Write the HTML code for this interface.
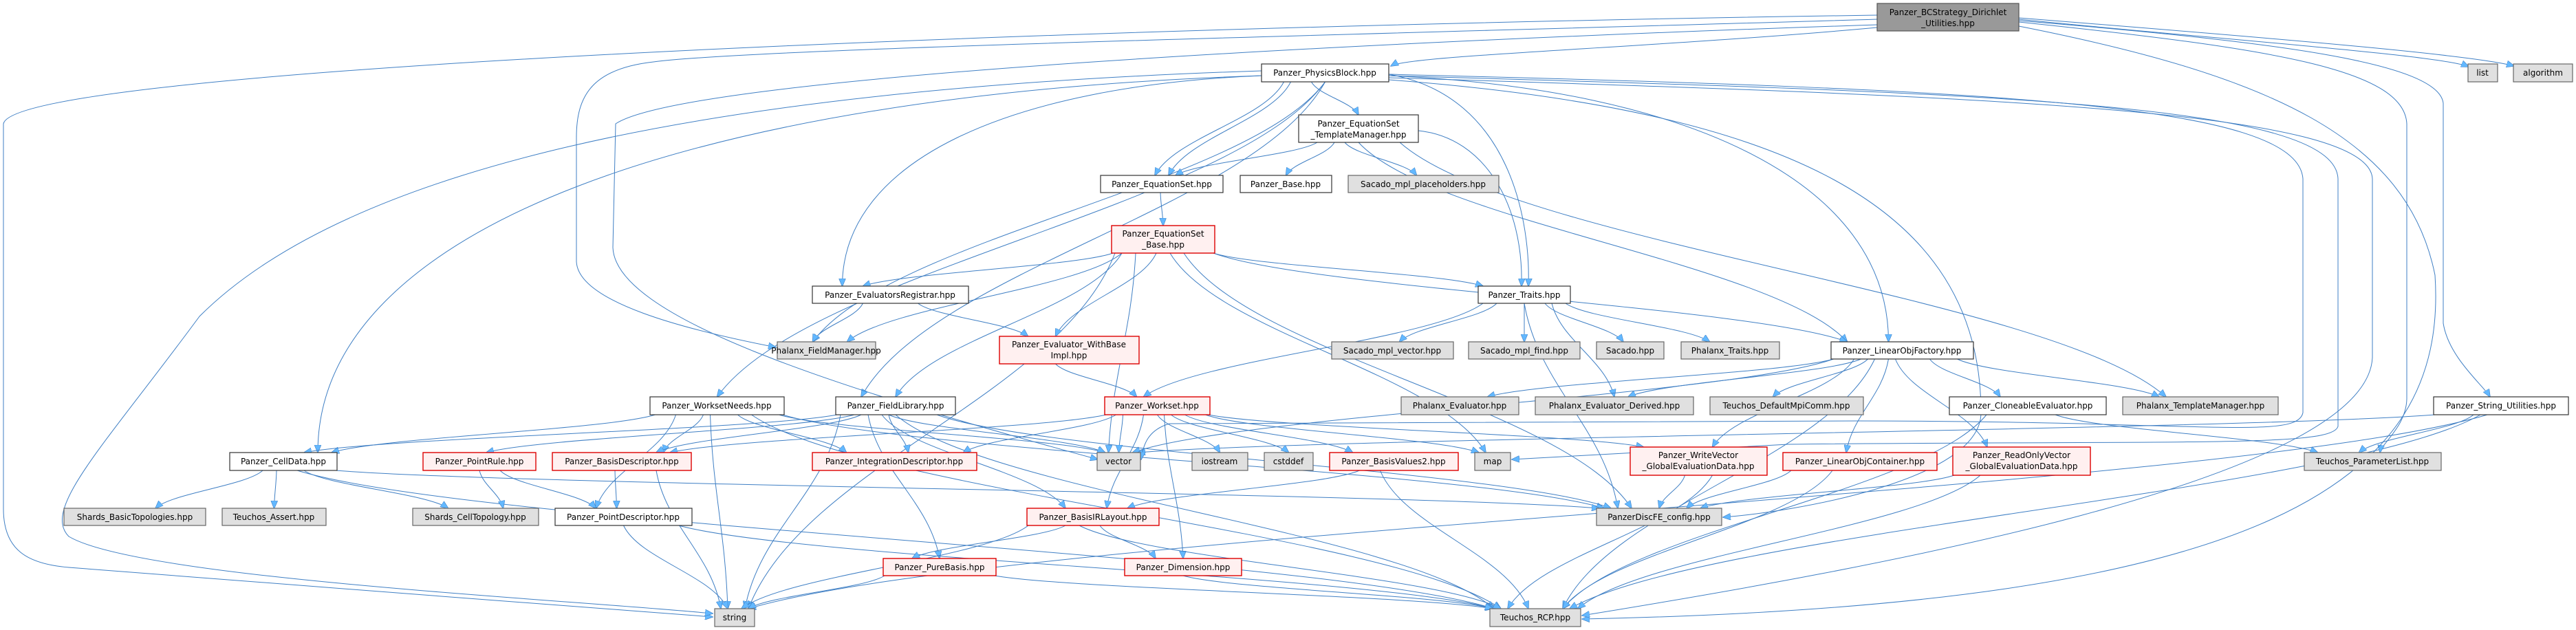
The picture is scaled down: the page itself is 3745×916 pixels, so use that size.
<!DOCTYPE html>
<html><head><meta charset="utf-8"><style>
html,body{margin:0;padding:0;background:#fff;width:3745px;height:916px;overflow:hidden}
svg{display:block}
text{font-family:"DejaVu Sans","Liberation Sans",sans-serif;font-size:12px;fill:#000;text-anchor:middle}
.w{fill:#fff;stroke:#333;stroke-width:1.2}
.g{fill:#e0e0e0;stroke:#666;stroke-width:1.2}
.r{fill:#fff0f0;stroke:#d00;stroke-width:1.4}
.b{fill:#999;stroke:#555;stroke-width:1.2}
.e{fill:none;stroke:#3f7fc4;stroke-width:1}
</style></head><body>
<svg id="s" width="3745" height="916" viewBox="0 0 3745 916" xmlns="http://www.w3.org/2000/svg">
<defs><marker id="a" markerWidth="12" markerHeight="10" refX="11" refY="5" orient="auto" markerUnits="userSpaceOnUse"><path d="M0,0 L12,5 L0,10 Z" fill="#63b8ff" stroke="#3f7fc4" stroke-width="0.6"/></marker></defs>
<g id="edges"></g>
<g id="nodes">
<rect class="b" x="2729" y="5" width="206" height="40"/><text x="2832" y="22">Panzer_BCStrategy_Dirichlet</text><text x="2832" y="38">_Utilities.hpp</text>
<rect class="g" x="3588" y="93" width="43" height="26"/><text x="3609" y="110">list</text>
<rect class="g" x="3654" y="93" width="86" height="26"/><text x="3697" y="110">algorithm</text>
<rect class="w" x="1834" y="93" width="185" height="26"/><text x="1926" y="110">Panzer_PhysicsBlock.hpp</text>
<rect class="w" x="1888" y="167" width="174" height="40"/><text x="1975" y="184">Panzer_EquationSet</text><text x="1975" y="200">_TemplateManager.hpp</text>
<rect class="w" x="1600" y="255" width="178" height="25"/><text x="1689" y="272">Panzer_EquationSet.hpp</text>
<rect class="w" x="1803" y="255" width="133" height="25"/><text x="1869" y="272">Panzer_Base.hpp</text>
<rect class="g" x="1960" y="255" width="219" height="25"/><text x="2069" y="272">Sacado_mpl_placeholders.hpp</text>
<rect class="r" x="1616" y="328" width="150" height="40"/><text x="1691" y="344">Panzer_EquationSet</text><text x="1691" y="360">_Base.hpp</text>
<rect class="w" x="1181" y="416" width="227" height="25"/><text x="1294" y="433">Panzer_EvaluatorsRegistrar.hpp</text>
<rect class="w" x="2149" y="416" width="134" height="25"/><text x="2216" y="433">Panzer_Traits.hpp</text>
<rect class="g" x="1130" y="497" width="143" height="25"/><text x="1201" y="514">Phalanx_FieldManager.hpp</text>
<rect class="r" x="1453" y="489" width="203" height="40"/><text x="1554" y="505">Panzer_Evaluator_WithBase</text><text x="1554" y="521">Impl.hpp</text>
<rect class="g" x="1936" y="497" width="177" height="25"/><text x="2024" y="514">Sacado_mpl_vector.hpp</text>
<rect class="g" x="2135" y="497" width="162" height="25"/><text x="2216" y="514">Sacado_mpl_find.hpp</text>
<rect class="g" x="2321" y="497" width="98" height="25"/><text x="2370" y="514">Sacado.hpp</text>
<rect class="g" x="2444" y="497" width="143" height="25"/><text x="2515" y="514">Phalanx_Traits.hpp</text>
<rect class="w" x="2662" y="497" width="207" height="25"/><text x="2765" y="514">Panzer_LinearObjFactory.hpp</text>
<rect class="w" x="945" y="577" width="195" height="26"/><text x="1042" y="594">Panzer_WorksetNeeds.hpp</text>
<rect class="w" x="1215" y="577" width="174" height="26"/><text x="1302" y="594">Panzer_FieldLibrary.hpp</text>
<rect class="r" x="1606" y="577" width="153" height="26"/><text x="1682" y="594">Panzer_Workset.hpp</text>
<rect class="g" x="2037" y="577" width="171" height="26"/><text x="2122" y="594">Phalanx_Evaluator.hpp</text>
<rect class="g" x="2232" y="577" width="230" height="26"/><text x="2347" y="594">Phalanx_Evaluator_Derived.hpp</text>
<rect class="g" x="2486" y="577" width="223" height="26"/><text x="2597" y="594">Teuchos_DefaultMpiComm.hpp</text>
<rect class="w" x="2834" y="577" width="228" height="26"/><text x="2948" y="594">Panzer_CloneableEvaluator.hpp</text>
<rect class="g" x="3086" y="577" width="226" height="26"/><text x="3199" y="594">Phalanx_TemplateManager.hpp</text>
<rect class="w" x="3538" y="577" width="196" height="26"/><text x="3636" y="594">Panzer_String_Utilities.hpp</text>
<rect class="w" x="334" y="658" width="156" height="26"/><text x="412" y="675">Panzer_CellData.hpp</text>
<rect class="r" x="615" y="658" width="164" height="26"/><text x="697" y="675">Panzer_PointRule.hpp</text>
<rect class="r" x="803" y="658" width="202" height="26"/><text x="904" y="675">Panzer_BasisDescriptor.hpp</text>
<rect class="r" x="1181" y="658" width="239" height="26"/><text x="1300" y="675">Panzer_IntegrationDescriptor.hpp</text>
<rect class="g" x="1595" y="658" width="63" height="26"/><text x="1626" y="675">vector</text>
<rect class="g" x="1733" y="658" width="81" height="26"/><text x="1773" y="675">iostream</text>
<rect class="g" x="1838" y="658" width="71" height="26"/><text x="1873" y="675">cstddef</text>
<rect class="r" x="1933" y="658" width="187" height="26"/><text x="2026" y="675">Panzer_BasisValues2.hpp</text>
<rect class="g" x="2144" y="658" width="52" height="26"/><text x="2170" y="675">map</text>
<rect class="r" x="2370" y="650" width="199" height="41"/><text x="2469" y="666">Panzer_WriteVector</text><text x="2469" y="682">_GlobalEvaluationData.hpp</text>
<rect class="r" x="2592" y="658" width="224" height="26"/><text x="2704" y="675">Panzer_LinearObjContainer.hpp</text>
<rect class="r" x="2839" y="650" width="200" height="41"/><text x="2939" y="666">Panzer_ReadOnlyVector</text><text x="2939" y="682">_GlobalEvaluationData.hpp</text>
<rect class="g" x="3350" y="658" width="199" height="26"/><text x="3449" y="675">Teuchos_ParameterList.hpp</text>
<rect class="g" x="93" y="739" width="206" height="25"/><text x="196" y="756">Shards_BasicTopologies.hpp</text>
<rect class="g" x="323" y="739" width="151" height="25"/><text x="398" y="756">Teuchos_Assert.hpp</text>
<rect class="g" x="600" y="739" width="183" height="25"/><text x="691" y="756">Shards_CellTopology.hpp</text>
<rect class="w" x="807" y="739" width="199" height="25"/><text x="906" y="756">Panzer_PointDescriptor.hpp</text>
<rect class="r" x="1493" y="739" width="192" height="25"/><text x="1589" y="756">Panzer_BasisIRLayout.hpp</text>
<rect class="g" x="2321" y="739" width="182" height="25"/><text x="2412" y="756">PanzerDiscFE_config.hpp</text>
<rect class="r" x="1284" y="812" width="164" height="25"/><text x="1366" y="829">Panzer_PureBasis.hpp</text>
<rect class="r" x="1635" y="812" width="170" height="25"/><text x="1720" y="829">Panzer_Dimension.hpp</text>
<rect class="g" x="1039" y="885" width="58" height="26"/><text x="1068" y="902">string</text>
<rect class="g" x="2166" y="885" width="132" height="26"/><text x="2232" y="902">Teuchos_RCP.hpp</text>
</g>
</svg>
<script>
var N={BC:[2729,5,206,40],list:[3588,93,43,26],alg:[3654,93,86,26],PB:[1834,93,185,26],TM:[1888,167,174,40],ES:[1600,255,178,25],PBase:[1803,255,133,25],SP:[1960,255,219,25],ESB:[1616,328,150,40],ER:[1181,416,227,25],TR:[2149,416,134,25],FM:[1130,497,143,25],EWB:[1453,489,203,40],SMV:[1936,497,177,25],SMF:[2135,497,162,25],SAC:[2321,497,98,25],PT:[2444,497,143,25],LOF:[2662,497,207,25],WN:[945,577,195,26],FL:[1215,577,174,26],WS:[1606,577,153,26],PE:[2037,577,171,26],PED:[2232,577,230,26],MPI:[2486,577,223,26],CE:[2834,577,228,26],PTM:[3086,577,226,26],SU:[3538,577,196,26],CD:[334,658,156,26],PR:[615,658,164,26],BD:[803,658,202,26],ID:[1181,658,239,26],vec:[1595,658,63,26],ios:[1733,658,81,26],cst:[1838,658,71,26],BV:[1933,658,187,26],map:[2144,658,52,26],WV:[2370,650,199,41],LOC:[2592,658,224,26],RO:[2839,650,200,41],PL:[3350,658,199,26],SBT:[93,739,206,25],TA:[323,739,151,25],SCT:[600,739,183,25],PD:[807,739,199,25],BIR:[1493,739,192,25],CFG:[2321,739,182,25],PB2:[1284,812,164,25],DIM:[1635,812,170,25],str:[1039,885,58,26],RCP:[2166,885,132,26]};
var E=[["PB","TM",-20],["PB","ES",-60,-10],["PB","ES",-50,10],["PB","ER",0,-70],["PB","LOF",0,-20],["PB","WN",0,0],["PB","CD",0,50],["PB","FL",0,-50],["PB","FM",0,-20],
["TM","ES",-60,20],["TM","PBase",-35],["TM","SP",-20,-10],["TM","PTM",60,-50],["TM","LOF",0,-80],
["ES","ESB",-2,0],["ESB","ER",-75,-40],["ESB","TR",75,-60],["ESB","LOF",75,-80],["ESB","FL",-60,0],["ESB","FM",-60,30],["ESB","vec",-40,-15],["ESB","str",-70,20],["ESB","map",10,-10],["ESB","CFG",30,-40],["ESB","EWB",-10,-20],
["ER","FM",-40,-20],["ER","EWB",40,-60],["EWB","WS",-20,-30],
["TR","SMV",-40,10],["TR","SMF",0,0],["TR","SAC",30,-10],["TR","PT",60,-30],["TR","WS",-60,-20],["TR","PED",40,0],["TR","CFG",0,-60],
["LOF","PE",-100,40],["LOF","PED",-60,20],["LOF","MPI",-50,-20],["LOF","CE",40,-40],["LOF","PTM",80,-60],["LOF","LOC",-20,-20],["LOF","RO",-10,-50],["LOF","WV",-70,20],["LOF","RCP",-40,40],["LOF","vec",-100,20],
["CE","PL",40,-80],["CE","RCP",-60,40],
["SU","PL",-40,-20],["SU","vec",-98,30],["SU","RCP",-30,50],["SU","str",-20,20],
["WN","CD",-90,70],["WN","BD",-20,60],["WN","ID",30,-70],["WN","PD",-60,-40],["WN","vec",90,-20],["WN","RCP",50,-50],["WN","CFG",97,-80],["WN","str",-10,-10],
["FL","CD",-87,30],["FL","PR",-60,10],["FL","BD",-50,50],["FL","vec",-10,-20],["FL","BIR",-20,-40],["FL","PB2",-40,0],["FL","RCP",0,-60],["FL","CFG",60,-70],["FL","str",-80,15],["FL","ID",-10,20],
["WS","vec",-50,0],["WS","ios",0],["WS","cst",20],["WS","BV",40,-60],["WS","map",70,-20],["WS","DIM",10,0],["WS","BD",-76,70],["WS","ID",-60,100],["WS","WV",76,-80],["WS","BIR",-20,20],
["CD","SBT",-30,30],["CD","TA",-10],["CD","SCT",30,-40],["CD","RCP",20,-60],["CD","CFG",78,-91],
["PR","SCT",0,40],["PR","PD",30,-40],["BD","PD",-10,-10],["BD","str",50,-20],["PD","str",0,-10],["PD","RCP",80,-60],
["BV","BIR",-50,50],["BV","RCP",-20,-10],["BIR","PB2",-40,-40],["BIR","DIM",10,-40],["BIR","str",-96,10],["BIR","RCP",-20,-50],
["PB2","str",-82,20],["PB2","RCP",80,-66],["DIM","RCP",0,-66],
["WV","CFG",-20,0],["WV","RCP",20,-40],["LOC","CFG",-100,40],["LOC","RCP",-40,40],["RO","CFG",-100,60],["RO","RCP",-60,66]];
var g=document.getElementById("edges"),ns="http://www.w3.org/2000/svg";
function add(d){var p=document.createElementNS(ns,"path");p.setAttribute("d",d);p.setAttribute("class","e");p.setAttribute("marker-end","url(#a)");g.appendChild(p);}
E.forEach(function(e){var s=N[e[0]],t=N[e[1]];var so=e[2]||0,to=e[3]||0;
var sx=s[0]+s[2]/2+so,sy=s[1]+s[3];var tx=t[0]+t[2]/2+to,ty=t[1];
if(tx<t[0]+4)tx=t[0]+4;if(tx>t[0]+t[2]-4)tx=t[0]+t[2]-4;
if(sx<s[0]+2)sx=s[0]+2;if(sx>s[0]+s[2]-2)sx=s[0]+s[2]-2;
var dy=ty-sy,dx=tx-sx;
if(e[0]=="PB"&&Math.abs(dx)>2*dy){var sg=dx<0?-1:1;sx=sg<0?s[0]:s[0]+s[2];sy=s[1]+s[3]/2+(so?0:4);dy=ty-sy;dx=tx-sx;
add("M"+sx+","+sy+" C"+(sx+dx*0.6)+","+(sy+dy*0.05)+" "+tx+","+(ty-dy*0.6)+" "+tx+","+ty);return;}
add("M"+sx+","+sy+" C"+(sx+dx*0.15)+","+(sy+dy*0.4)+" "+(tx-dx*0.15)+","+(ty-dy*0.4)+" "+tx+","+ty);});
add("M2019,108 C2200,140 2225,330 2222,416");
add("M2062,190 C2160,200 2215,300 2212,416");
add("M2729,22 C1500,40 20,100 5,180 L5,740 C5,800 40,820 100,825 C300,840 800,880 1036,897");
add("M1834,103 C1000,130 500,250 290,460 C150,650 60,740 100,780 C200,840 800,870 1036,892");
add("M2729,28 C2000,50 1100,70 950,90 C860,100 838,140 838,200 L838,380 C840,440 1000,480 1128,505");
add("M2729,36 C2000,60 1000,110 895,180 L891,360 C895,460 1200,560 1596,668");
add("M2729,40 C2400,70 2050,80 2022,96");
add("M2935,30 C3300,60 3545,90 3552,150 L3552,470 C3560,520 3610,560 3620,577");
add("M2935,32 C3300,70 3495,100 3499,180 L3499,580 C3498,620 3462,645 3460,658");
add("M2935,28 C3200,55 3550,80 3589,97");
add("M2935,26 C3300,55 3600,80 3655,96");
add("M2935,38 C3300,110 3500,200 3540,400 C3560,700 3300,880 2300,900");
add("M2019,108 C2900,130 3340,150 3348,260 L3348,600 C3340,640 3200,612 2700,612 L1700,616 C1670,625 1662,645 1659,668");
add("M2019,110 C2900,135 3395,150 3399,260 L3399,620 C3390,650 3200,640 2600,646 L2198,668");
add("M2019,113 C2900,140 3445,160 3449,260 L3449,520 C3440,700 2700,830 2300,895");
add("M2019,116 C2600,160 2880,300 2880,600 C2880,700 2600,745 2505,752");
</script>
</body></html>
